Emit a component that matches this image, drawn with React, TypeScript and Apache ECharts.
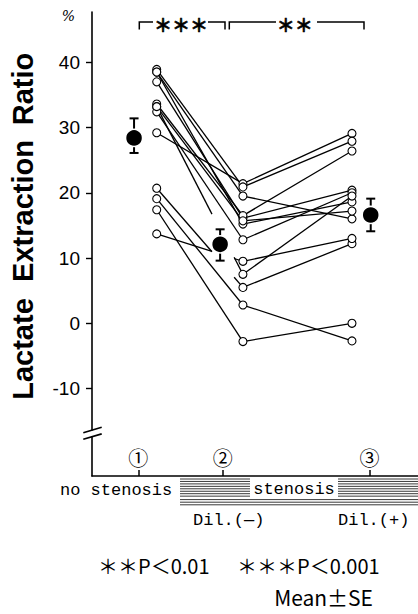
import React, { useEffect, useRef } from "react";
import * as echarts from "echarts";

// ---- data ----
const groupTicks = [14.2, 40.1, 85.1];
const groupTickLabels = ["①", "②", "③"];
const columnX = [19.85, 46.3, 79.75];
const meanX = [12.9, 39.3, 85.5];
const meanValues = [28.4, 12.1, 16.6];
const seUpper = [31.4, 14.4, 19.1];
const seLower = [26.1, 9.6, 14.1];
const ratioNoStenosis = [29.2, 38.9, 38.5, 37.0, 38.5, 33.6, 33.2, 32.4, 33.2, 20.7, 13.7, 19.1, 17.4];
const ratioDilMinus = [21.4, 20.9, 19.5, 16.1, 15.2, 16.5, 15.7, 12.8, 7.5, 5.5, 9.5, 2.8, -2.8];
const ratioDilPlus = [29.1, 27.9, 16.0, 20.4, 18.6, 26.4, 17.2, 20.0, 19.5, 12.2, 13.0, -2.7, 0];
const hiddenBehindMean = [0, 0, 0, 0, 0, 0, 0, 0, 1, 1, 1, 0, 0];
const gapRange = [36.8, 43.6];
const yTicks = [-10, 0, 10, 20, 30, 40];
const yMin = -23.4;
const yMax = 47.7;

const MONO = "'Liberation Mono', 'DejaVu Sans Mono', monospace";
const CJK = "'Noto Sans CJK JP', 'Noto Sans', sans-serif";
const SANS = "'Liberation Sans', Arial, sans-serif";

function buildGraphic() {
  const g: any[] = [];
  const stroke = { stroke: "#000", lineWidth: 1.5, fill: null };
  // brackets
  g.push({ type: "polyline", z: 100, shape: { points: [[139.3, 29.5], [139.3, 22], [153, 22]] }, style: stroke });
  g.push({ type: "polyline", z: 100, shape: { points: [[208, 22], [225, 22], [225, 29.5]] }, style: stroke });
  g.push({ type: "polyline", z: 100, shape: { points: [[229.3, 29.5], [229.3, 22], [276, 22]] }, style: stroke });
  g.push({ type: "polyline", z: 100, shape: { points: [[317, 22], [364, 22], [364, 29.5]] }, style: stroke });
  const stars = (text: string, x: number) => ({
    type: "text", z: 100, x, y: 24,
    style: { text, font: `bold 18px ${CJK}`, fill: "#000", stroke: "#000", lineWidth: 0.6, textAlign: "center", textVerticalAlign: "middle" },
  });
  g.push(stars("＊＊＊", 181));
  g.push(stars("＊＊", 294.7));
  // percent sign
  g.push({ type: "text", z: 100, x: 68.5, y: 16, style: { text: "%", font: `italic 14px 'DejaVu Serif', serif`, fill: "#000", textAlign: "center", textVerticalAlign: "middle" } });
  // y-axis title words
  const word = (text: string, y: number) => ({
    type: "text", z: 100, x: 23, y, rotation: Math.PI / 2,
    style: { text, font: `bold 29px ${SANS}`, fill: "#000", textAlign: "center", textVerticalAlign: "middle" },
  });
  g.push(word("Ratio", 89));
  g.push(word("Extraction", 211));
  g.push(word("Lactate", 349));
  // axis break
  g.push({ type: "rect", z: 100, shape: { x: 87, y: 430.5, width: 10, height: 5.5 }, style: { fill: "#fff" } });
  g.push({ type: "line", z: 101, shape: { x1: 83.3, y1: 432.7, x2: 101.7, y2: 427.3 }, style: { stroke: "#000", lineWidth: 1.7 } });
  g.push({ type: "line", z: 101, shape: { x1: 83.3, y1: 439.3, x2: 101.7, y2: 433.9 }, style: { stroke: "#000", lineWidth: 1.7 } });
  // hatched stenosis band
  for (let k = 0; k < 8; k++) {
    const y = 479 + k * 2.45;
    g.push({ type: "line", z: 100, shape: { x1: 180, y1: y, x2: 250, y2: y }, style: { stroke: "#222", lineWidth: 0.9 } });
    g.push({ type: "line", z: 100, shape: { x1: 338, y1: y, x2: 418, y2: y }, style: { stroke: "#222", lineWidth: 0.9 } });
  }
  for (let k = 0; k < 3; k++) {
    const y = 499.6 + k * 2.6;
    g.push({ type: "line", z: 100, shape: { x1: 180, y1: y, x2: 418, y2: y }, style: { stroke: "#222", lineWidth: 0.9 } });
  }
  const label = (text: string, x: number, y: number, align = "left", font = `17px ${MONO}`) => ({
    type: "text", z: 102, x, y,
    style: { text, font, fill: "#000", textAlign: align, textVerticalAlign: "middle" },
  });
  g.push(label("no stenosis", 60, 490));
  g.push(label("stenosis", 294, 489.5, "center"));
  g.push(label("Dil.(—)", 193, 520));
  g.push(label("Dil.(+)", 338, 520));
  g.push(label("＊＊P＜0.01", 98, 565, "left", `20px ${CJK}`));
  g.push(label("＊＊＊P＜0.001", 237, 565, "left", `20px ${CJK}`));
  g.push(label("Mean±SE", 373, 597, "right", `21px ${CJK}`));
  return g;
}

export default function App() {
  const ref = useRef<HTMLDivElement>(null);
  useEffect(() => {
    if (!ref.current) return;
    const chart = echarts.init(ref.current, null, { renderer: "svg" });

    const lineData = ratioNoStenosis.map((v, i) => [v, ratioDilMinus[i], ratioDilPlus[i], hiddenBehindMean[i]]);
    const openPoints: number[][] = [];
    [ratioNoStenosis, ratioDilMinus, ratioDilPlus].forEach((arr, c) => arr.forEach((v) => openPoints.push([columnX[c], v])));
    const meanPoints = meanValues.map((v, i) => [meanX[i], v]);
    const errData = meanValues.map((_, i) => [meanX[i], seLower[i], seUpper[i]]);

    const option: any = {
      animation: false,
      backgroundColor: "#fff",
      grid: { left: 92, right: 0, top: 12, bottom: 138, outerBoundsMode: "none", containLabel: false },
      xAxis: {
        type: "value", min: 0, max: 100,
        splitLine: { show: false },
        axisLine: { onZero: false, lineStyle: { color: "#000", width: 1.6 } },
        axisTick: { customValues: groupTicks, inside: true, length: 6, lineStyle: { color: "#000", width: 1.5 } },
        axisLabel: {
          customValues: groupTicks, inside: true, margin: 9, color: "#000", fontSize: 20, fontFamily: CJK,
          formatter: (v: number) => {
            let best = 0;
            groupTicks.forEach((t, i) => { if (Math.abs(t - v) < Math.abs(groupTicks[best] - v)) best = i; });
            return groupTickLabels[best];
          },
        },
      },
      yAxis: {
        type: "value", min: yMin, max: yMax,
        splitLine: { show: false },
        axisLine: { onZero: false, lineStyle: { color: "#000", width: 1.6 } },
        axisTick: { customValues: yTicks, length: 6, lineStyle: { color: "#000", width: 1.4 } },
        axisLabel: { customValues: yTicks, margin: 12, color: "#000", fontSize: 19, fontFamily: SANS },
      },
      series: [
        {
          type: "custom",
          z: 2,
          data: lineData,
          renderItem: (params: any, api: any) => {
            const p1 = api.coord([columnX[0], api.value(0)]);
            const p2 = api.coord([columnX[1], api.value(1)]);
            const p3 = api.coord([columnX[2], api.value(2)]);
            const st = { stroke: "#000", lineWidth: 1.3 };
            const children: any[] = [];
            if (api.value(3)) {
              const gx0 = api.coord([gapRange[0], 0])[0];
              const gx1 = api.coord([gapRange[1], 0])[0];
              const at = (x: number) => [x, p1[1] + ((p2[1] - p1[1]) * (x - p1[0])) / (p2[0] - p1[0])];
              const a = at(gx0), b = at(gx1);
              children.push({ type: "line", shape: { x1: p1[0], y1: p1[1], x2: a[0], y2: a[1] }, style: st });
              children.push({ type: "line", shape: { x1: b[0], y1: b[1], x2: p2[0], y2: p2[1] }, style: st });
            } else {
              children.push({ type: "line", shape: { x1: p1[0], y1: p1[1], x2: p2[0], y2: p2[1] }, style: st });
            }
            children.push({ type: "line", shape: { x1: p2[0], y1: p2[1], x2: p3[0], y2: p3[1] }, style: st });
            return { type: "group", children };
          },
        },
        {
          type: "scatter",
          z: 3,
          data: openPoints,
          symbol: "circle",
          symbolSize: 8,
          itemStyle: { color: "#fff", borderColor: "#000", borderWidth: 1.1, opacity: 1 },
        },
        {
          type: "custom",
          z: 4,
          data: errData,
          renderItem: (params: any, api: any) => {
            const lo = api.coord([api.value(0), api.value(1)]);
            const hi = api.coord([api.value(0), api.value(2)]);
            const st = { stroke: "#000", lineWidth: 2 };
            const w = 4.5;
            return {
              type: "group",
              children: [
                { type: "line", shape: { x1: lo[0], y1: lo[1], x2: hi[0], y2: hi[1] }, style: st },
                { type: "line", shape: { x1: lo[0] - w, y1: lo[1], x2: lo[0] + w, y2: lo[1] }, style: st },
                { type: "line", shape: { x1: hi[0] - w, y1: hi[1], x2: hi[0] + w, y2: hi[1] }, style: st },
              ],
            };
          },
        },
        {
          type: "scatter",
          z: 5,
          data: meanPoints,
          symbol: "circle",
          symbolSize: 17,
          itemStyle: { color: "#000", borderColor: "#fff", borderWidth: 1.5, opacity: 1 },
        },
      ],
      graphic: buildGraphic(),
    };
    chart.setOption(option);
    return () => chart.dispose();
  }, []);
  return <div ref={ref} style={{ position: "absolute", left: 0, top: 0, width: 418, height: 614 }} />;
}
